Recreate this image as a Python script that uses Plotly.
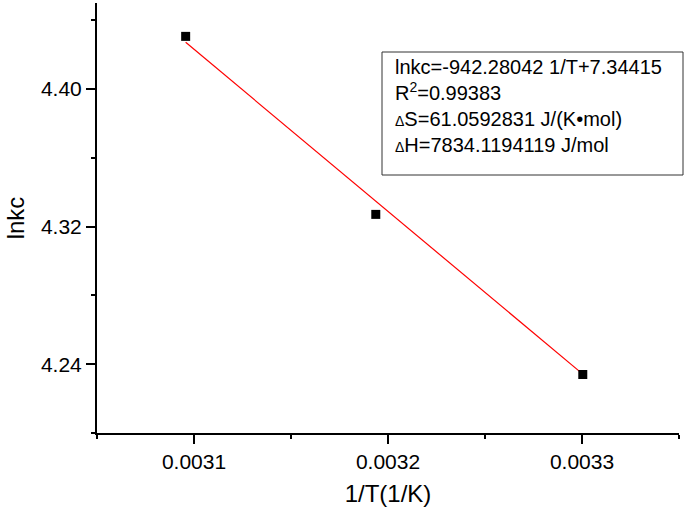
import plotly.graph_objects as go

# Data
inv_T = [0.0030957, 0.0031937, 0.0033004]
lnkc = [4.4306, 4.3271, 4.2340]
fit_slope = -942.28042
fit_intercept = 7.34415
fit_x = [inv_T[0], inv_T[-1]]
fit_y = [fit_slope * x + fit_intercept for x in fit_x]

x_tickvals = [0.0031, 0.0032, 0.0033]
y_tickvals = [4.24, 4.32, 4.40]

annotation_lines = [
    "lnkc=-942.28042 1/T+7.34415",
    "R<sup>2</sup>=0.99383",
    "<span style='font-size:14px'>Δ</span>S=61.0592831 J/(K•mol)",
    "<span style='font-size:14px'>Δ</span>H=7834.1194119 J/mol",
]

FONT = "Liberation Sans, Arial, sans-serif"

fig = go.Figure()
fig.add_trace(go.Scatter(
    x=fit_x, y=fit_y, mode="lines",
    line=dict(color="#ff0000", width=1.2), showlegend=False,
))
fig.add_trace(go.Scatter(
    x=inv_T, y=lnkc, mode="markers",
    marker=dict(symbol="square", color="black", size=9),
    showlegend=False,
))

L, R, T, B = 97, 6, 3, 79
W, H = 685, 512
pw, ph = W - L - R, H - T - B

def px(xp):
    return (xp - L) / pw

def py(yp):
    return (H - B - yp) / ph

fig.add_shape(type="rect", xref="paper", yref="paper",
              x0=px(382), x1=px(683), y0=py(175), y1=py(52),
              line=dict(color="#333333", width=1), fillcolor="white", layer="above")

fig.add_annotation(
    xref="paper", yref="paper", x=px(393), y=py(54),
    xanchor="left", yanchor="top", align="left", showarrow=False,
    text="<br>".join(annotation_lines),
    font=dict(family=FONT, size=20, color="black"),
)

fig.update_layout(
    width=W, height=H,
    margin=dict(l=L, r=R, t=T, b=B, autoexpand=False),
    plot_bgcolor="white", paper_bgcolor="white",
    font=dict(family=FONT, color="black"),
)

fig.update_xaxes(
    automargin=False,
    range=[0.00305, 0.00335], tickvals=x_tickvals, tickformat=".4f",
    showgrid=False, zeroline=False, showline=True, linecolor="black", linewidth=2,
    ticks="outside", ticklen=9, tickwidth=2, tickcolor="black",
    tickfont=dict(size=21, family=FONT),
    minor=dict(tickmode="linear", tick0=0.00305, dtick=0.00005, ticks="outside",
               ticklen=4, tickwidth=2, tickcolor="black", showgrid=False),
    title=dict(text="1/T(1/K)", font=dict(size=24, family=FONT), standoff=13),
)
fig.update_yaxes(
    automargin=False,
    range=[4.20, 4.45], tickvals=y_tickvals, tickformat=".2f",
    showgrid=False, zeroline=False, showline=True, linecolor="black", linewidth=2,
    ticks="outside", ticklen=9, tickwidth=2, tickcolor="black",
    tickfont=dict(size=21, family=FONT),
    minor=dict(tickmode="linear", tick0=4.20, dtick=0.04, ticks="outside",
               ticklen=4, tickwidth=2, tickcolor="black", showgrid=False),
    title=dict(text="lnkc", font=dict(size=24, family=FONT), standoff=10),
)

fig.write_html("out.html", config={"displayModeBar": False},
               post_script="document.body.style.margin='0';")
